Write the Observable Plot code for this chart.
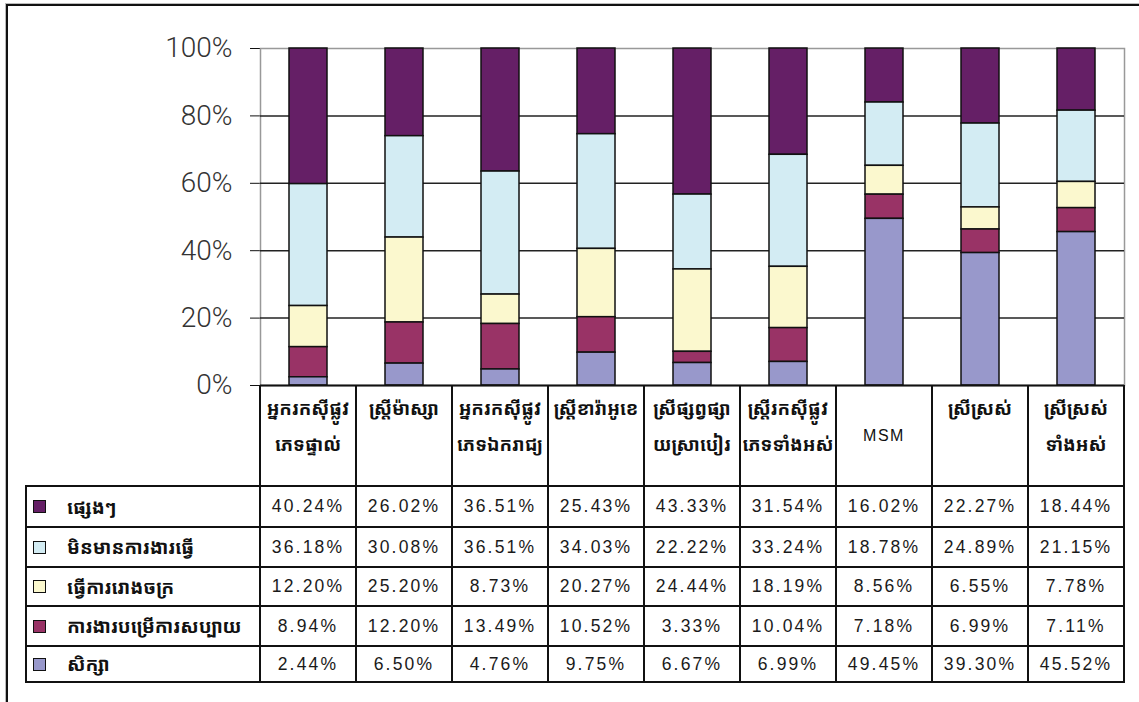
<!DOCTYPE html>
<html><head><meta charset="utf-8">
<script src="https://cdn.jsdelivr.net/npm/d3@7"></script>
<script src="https://cdn.jsdelivr.net/npm/@observablehq/plot@0.6"></script>
<style>
body{margin:0;background:#fff;}
#wrap{position:relative;width:1139px;height:702px;overflow:hidden;background:#fff;font-family:"Liberation Sans",Arial,sans-serif;}
#frame{position:absolute;left:6px;top:4px;width:1200px;height:800px;border-left:2px solid #111;border-top:2px solid #111;box-shadow:-1px -1px 0 #bbb;}
#chart{position:absolute;left:0;top:0;}
.hl{position:absolute;height:2px;background:#111;}
.vl{position:absolute;width:2px;background:#111;}
.cell{position:absolute;display:flex;align-items:center;justify-content:center;color:#222;}
.num{font-family:"Liberation Sans",Arial,sans-serif;font-size:17.5px;letter-spacing:2.2px;color:#1a1a1a;}
.head{flex-direction:column;justify-content:flex-start;padding-top:5px;box-sizing:border-box;font-family:"Noto Sans Khmer","Khmer OS","Noto Sans",sans-serif;font-size:18.5px;font-weight:700;line-height:36px;color:#111;}
.head.latin{justify-content:center;padding-top:0;font-family:"Liberation Sans",Arial,sans-serif;font-size:16px;font-weight:400;letter-spacing:1.5px;}
.leg{justify-content:flex-start;font-family:"Noto Sans Khmer","Khmer OS","Noto Sans",sans-serif;font-size:19px;font-weight:700;color:#111;}
.sw{width:11px;height:11px;border:1.5px solid #111;margin-left:7px;margin-right:21px;flex:none;}
svg g[aria-label="y-axis tick label"]{font-family:Roboto,"Liberation Sans",sans-serif;font-weight:300;font-size:28px;fill:#333;}
</style>
</head><body>
<div id="wrap"><div id="frame"></div><div id="chart"></div></div>
<script>
// ---- data ----
const categoryLines = [
  ["អ្នករកស៊ីផ្លូវ","ភេទផ្ទាល់"],
  ["ស្ត្រីម៉ាស្សា"],
  ["អ្នករកស៊ីផ្លូវ","ភេទឯករាជ្យ"],
  ["ស្ត្រីខារ៉ាអូខេ"],
  ["ស្រីផ្សព្វផ្សា","យស្រាបៀរ"],
  ["ស្ត្រីរកស៊ីផ្លូវ","ភេទទាំងអស់"],
  ["MSM"],
  ["ស្រីស្រស់"],
  ["ស្រីស្រស់","ទាំងអស់"]
];
const categories = categoryLines.map(l => l.join(""));
const seriesNames = ["ផ្សេងៗ","មិនមានការងារធ្វើ","ធ្វើការរោងចក្រ","ការងារបម្រើការសប្បាយ","សិក្សា"];
const others        = [40.24, 26.02, 36.51, 25.43, 43.33, 31.54, 16.02, 22.27, 18.44];
const unemployed    = [36.18, 30.08, 36.51, 34.03, 22.22, 33.24, 18.78, 24.89, 21.15];
const factory       = [12.20, 25.20,  8.73, 20.27, 24.44, 18.19,  8.56,  6.55,  7.78];
const entertainment = [ 8.94, 12.20, 13.49, 10.52,  3.33, 10.04,  7.18,  6.99,  7.11];
const study         = [ 2.44,  6.50,  4.76,  9.75,  6.67,  6.99, 49.45, 39.30, 45.52];
const seriesValues = [others, unemployed, factory, entertainment, study];
const seriesColors = ["#651F66","#D3ECF3","#FBF8CE","#993366","#9898CB"];
const yTicks = [0, 20, 40, 60, 80, 100];

// ---- table built from arrays ----
const data = [];
seriesNames.forEach((s, si) => categories.forEach((c, ci) => data.push({cat: c, series: s, value: seriesValues[si][ci]})));
const stackOrder = seriesNames.slice().reverse();

const chart = Plot.plot({
  width: 1139, height: 400,
  marginTop: 48, marginBottom: 15, marginLeft: 260, marginRight: 15,
  style: {background: "transparent", color: "#111", fontFamily: "Liberation Sans, Arial, sans-serif"},
  x: {domain: categories, paddingInner: 0.6, paddingOuter: 0.3, axis: null},
  y: {domain: [0, 100], ticks: yTicks, tickFormat: d => d + "%", tickSize: 10, tickPadding: 18, line: true, label: null},
  color: {domain: seriesNames, range: seriesColors},
  marks: [
    Plot.frame({stroke: "#999", strokeWidth: 1.5}),
    Plot.ruleY(yTicks.filter(t => t > 0 && t < 100), {stroke: "#222", strokeWidth: 1.5}),
    Plot.barY(data, Plot.stackY({x: "cat", y: "value", fill: "series", order: stackOrder, stroke: "#111", strokeWidth: 1.5, inset: 0})),
    Plot.ruleY([0], {stroke: "#111", strokeWidth: 2})
  ]
});
document.getElementById("chart").appendChild(chart);

// ---- data table aligned to the x scale ----
const xs = chart.scale("x");
const step = xs.step, bw = xs.bandwidth;
const colLeft = categories.map(c => xs.apply(c) - (step - bw) / 2);
const colRight = colLeft[colLeft.length - 1] + step;
const tableTop = 385, headBottom = 486;
const rowEdges = [486, 527, 567, 606, 646, 682];
const legendLeft = 26;
const wrap = document.getElementById("wrap");
function el(cls, css, html) {
  const d = document.createElement("div");
  d.className = cls;
  Object.assign(d.style, css);
  if (html != null) d.innerHTML = html;
  wrap.appendChild(d);
  return d;
}
// header cells
categoryLines.forEach((lines, i) => {
  const latin = !/[\u1780-\u17FF]/.test(lines.join(""));
  el("cell head" + (latin ? " latin" : ""), {left: colLeft[i] + "px", top: tableTop + "px", width: step + "px", height: (headBottom - tableTop) + "px"},
     lines.map(l => `<div>${l}</div>`).join(""));
});
// data rows
seriesNames.forEach((s, si) => {
  const top = rowEdges[si], h = rowEdges[si + 1] - top;
  const lg = el("cell leg", {left: legendLeft + "px", top: top + "px", width: (colLeft[0] - legendLeft) + "px", height: h + "px"});
  const sw = document.createElement("div"); sw.className = "sw"; sw.style.background = seriesColors[si];
  lg.appendChild(sw);
  const t = document.createElement("span"); t.textContent = s; lg.appendChild(t);
  categories.forEach((c, ci) => {
    el("cell num", {left: colLeft[ci] + "px", top: top + "px", width: step + "px", height: h + "px"}, seriesValues[si][ci].toFixed(2) + "%");
  });
});
// grid lines of the table
[...colLeft, colRight].forEach(x => el("vl", {left: (x - 1) + "px", top: tableTop + "px", height: (rowEdges[rowEdges.length - 1] - tableTop + 1) + "px"}));
el("vl", {left: (legendLeft - 1) + "px", top: rowEdges[0] + "px", height: (rowEdges[rowEdges.length - 1] - rowEdges[0] + 1) + "px"});
rowEdges.forEach(y => el("hl", {left: (legendLeft - 1) + "px", top: (y - 1) + "px", width: (colRight - legendLeft + 2) + "px"}));
</script>
</body></html>
